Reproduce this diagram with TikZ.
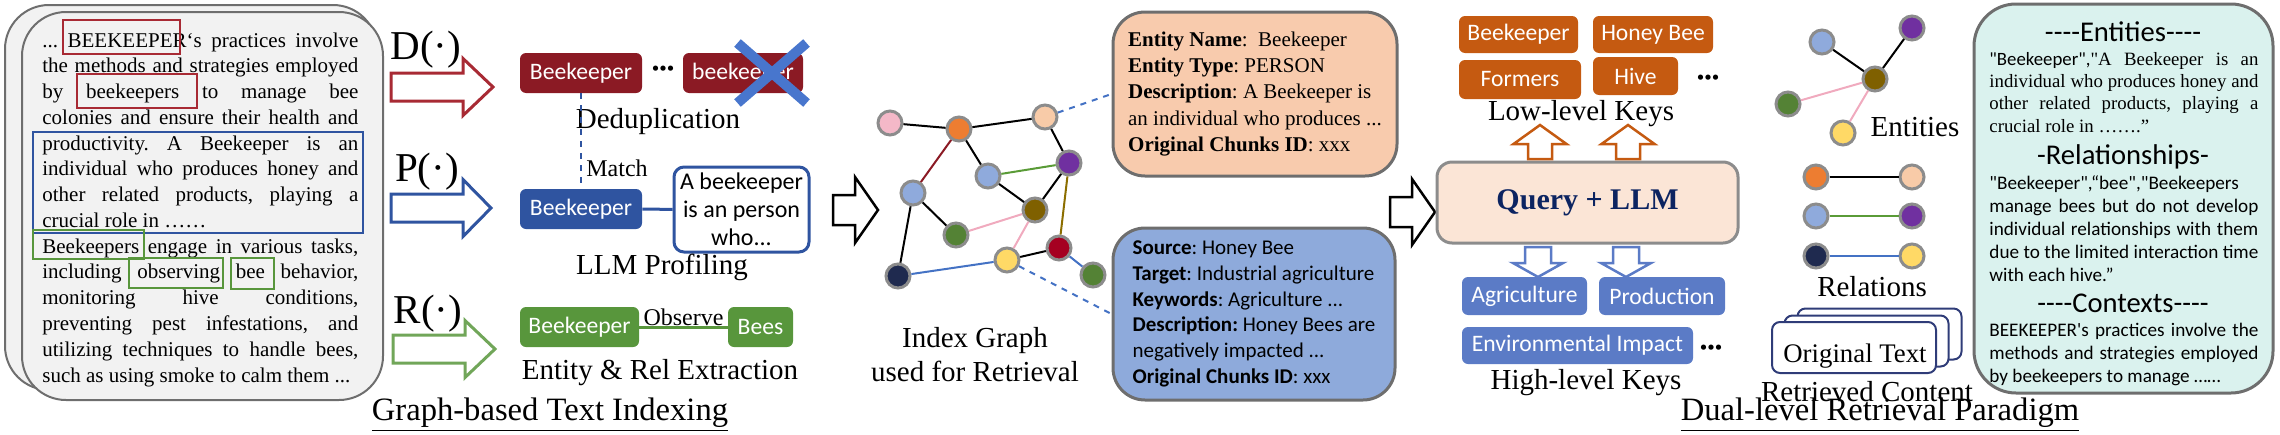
\documentclass[tikz,border=0pt]{standalone}
\usepackage{fontspec}
\setmainfont{Liberation Serif}
\setsansfont{Carlito}
\newfontfamily\calfont[Ligatures=TeXOff]{Carlito}
\newfontfamily\plainserif[Ligatures=TeXOff]{Liberation Serif}
\usepackage{tikz}
\usetikzlibrary{arrows.meta,positioning,shapes.misc}
\usepackage{xcolor}
\definecolor{dedred}{RGB}{139,26,36}
\definecolor{hlred}{RGB}{168,42,52}
\definecolor{profblue}{RGB}{47,84,160}
\definecolor{exgreen}{RGB}{88,150,60}
\definecolor{xblue}{RGB}{72,118,205}
\definecolor{boxgray}{RGB}{110,110,110}
\definecolor{srcfill}{RGB}{242,242,242}
\definecolor{gborder}{RGB}{140,140,140}
\definecolor{gpink}{RGB}{244,184,200}
\definecolor{gorange}{RGB}{237,125,49}
\definecolor{gpeach}{RGB}{248,203,168}
\definecolor{gblue}{RGB}{143,170,220}
\definecolor{gpurple}{RGB}{112,48,160}
\definecolor{gbrown}{RGB}{127,96,0}
\definecolor{ggreen}{RGB}{84,130,53}
\definecolor{gdarkred}{RGB}{165,0,33}
\definecolor{gyellow}{RGB}{255,217,102}
\definecolor{gnavy}{RGB}{31,42,79}
\definecolor{edgegreen}{RGB}{90,155,55}
\definecolor{edgeolive}{RGB}{140,110,0}
\definecolor{edgepink}{RGB}{240,170,190}
\definecolor{edgeblue}{RGB}{68,114,196}
\definecolor{einfofill}{RGB}{248,203,173}
\definecolor{rinfofill}{RGB}{142,170,219}
\definecolor{queryfill}{RGB}{251,229,214}
\definecolor{querynavy}{RGB}{12,36,97}
\definecolor{keyorange}{RGB}{197,90,17}
\definecolor{keyblue}{RGB}{91,123,198}
\definecolor{cardnavy}{RGB}{47,60,120}
\definecolor{mintfill}{RGB}{218,242,238}
\newlength{\srcw}\setlength{\srcw}{158pt}
\newlength{\ctxw}\setlength{\ctxw}{134.5pt}
\newcommand{\jl}[2][\srcw]{\hbox to #1{#2}}
\newcommand{\fs}[2]{\fontsize{#1}{#2}\selectfont}
\frenchspacing
\tikzset{
  srcbox/.style={draw=boxgray,line width=1pt,fill=srcfill,rounded corners=22pt},
  srctext/.style={font=\fs{10.5}{12.88},align=left,inner sep=0pt},
  % hollow block arrow: length, shaft half width, head half width, head length
  pics/hollowarrow/.style n args={4}{code={
    \draw[pic actions] (0,-#2) -- ({#1-#4},-#2) -- ({#1-#4},-#3) -- (#1,0)
      -- ({#1-#4},#3) -- ({#1-#4},#2) -- (0,#2) -- cycle;
  }},
  sidearrow/.style={fill=white,line width=1.5pt,line join=miter},
  bigarrow/.style={draw=black,fill=white,line width=1.25pt,line join=miter},
  keyarrow/.style={fill=white,line width=1.25pt,line join=miter},
  oplabel/.style={font=\fs{20.5}{24},inner sep=0pt},
  tagbox/.style={rounded corners=3pt,text=white,font=\sffamily\fs{11.8}{14},
    inner sep=0pt,minimum height=20pt},
  caption/.style={font=\fs{14.5}{17},inner sep=0pt},
  gnode/.style={circle,draw=gborder,line width=1.5pt,minimum size=12pt,inner sep=0pt},
  gedge/.style={line width=1pt},
  infobox/.style={draw=boxgray,line width=1.5pt,rounded corners=16pt,align=left},
  card/.style={draw=cardnavy,line width=1pt,fill=white,rounded corners=4pt,
    minimum width=82pt,minimum height=25.5pt},
  ctxhead/.style={font=\calfont\fs{14.3}{17},inner sep=0pt},
  dotsnode/.style={inner sep=0pt,font=\sffamily\bfseries\fs{14}{16}}
}

\begin{document}
\begin{tikzpicture}[x=0.5pt,y=-0.5pt]
  \useasboundingbox (0,0) rectangle (2280,434);

  % source text chunk
  \draw[srcbox] (5,5) rectangle (377,390);
  \draw[srcbox] (22,12) rectangle (383,400);
  \node[srctext,anchor=base west] (srctxt) at (42,382) {%
    \jl{... BEEKEEPER‘s practices involve}\\
    \jl{the methods and strategies employed}\\
    \jl{by beekeepers to manage bee}\\
    \jl{colonies and ensure their health and}\\
    \jl{productivity. A Beekeeper is an}\\
    \jl{individual who produces honey and}\\
    \jl{other related products, playing a}\\
    crucial role in ……\\
    \jl{Beekeepers engage in various tasks,}\\
    \jl{including observing bee behavior,}\\
    \jl{monitoring hive conditions,}\\
    \jl{preventing pest infestations, and}\\
    \jl{utilizing techniques to handle bees,}\\
    such as using smoke to calm them ...};
  \draw[hlred,line width=1pt] (63,20) rectangle (180,54);
  \draw[hlred,line width=1pt] (77,74) rectangle (197,108);
  \draw[profblue,line width=1pt] (33,132) rectangle (363,233);
  \draw[exgreen,line width=1pt] (33,230) rectangle (144,259);
  \draw[exgreen,line width=1pt] (129,258) rectangle (223,288);
  \draw[exgreen,line width=1pt] (231,258) rectangle (274,289);

  % D, P, R operators
  \node[oplabel] (opD) at (426,50) {D(·)};
  \node[oplabel] (opP) at (427,172) {P(·)};
  \node[oplabel] (opR) at (428,314) {R(·)};
  \pic[sidearrow,draw=hlred] (arrD) at (391,87) {hollowarrow={102}{14}{28.5}{30}};
  \pic[sidearrow,draw=profblue] (arrP) at (391,208) {hollowarrow={100}{14}{28.5}{28}};
  \pic[sidearrow,draw=exgreen!85!white] (arrR) at (393,349) {hollowarrow={102}{14}{28.5}{30}};

  \node[tagbox,fill=dedred,minimum width=61pt] (dedA) at (581,73) {Beekeeper};
  \node[tagbox,fill=dedred,minimum width=60pt] (dedB) at (743,73) {beekeeper};
  \node[dotsnode] (deddots) at (663,71) {···};
  \node[cross out,draw=xblue,line width=5pt,minimum width=29.5pt,minimum height=25pt,
    inner sep=0pt] (xmark) at (772,73) {};
  \node[caption] (dedcap) at (658,122) {Deduplication};

  \node[tagbox,fill=profblue,minimum width=61pt] (profA) at (581,209) {Beekeeper};
  \node[draw=profblue,line width=1.5pt,rounded corners=5pt,fill=white,align=center,
    minimum width=67.5pt,minimum height=42.5pt,inner sep=0pt,
    font=\sffamily\fs{12}{14}] (profB) at (741.5,209.5) {A beekeeper\\is an person\\who...};
  \draw[profblue,line width=1.5pt] (profA) -- (profB);
  \draw[profblue,line width=1pt,dashed] (dedA) -- (profA);
  \node[inner sep=0pt,font=\fs{12}{14}] (match) at (617,168) {Match};
  \node[caption] (profcap) at (662,267) {LLM Profiling};

  \node[tagbox,fill=exgreen,minimum width=59.5pt] (exA) at (579.5,327) {Beekeeper};
  \node[tagbox,fill=exgreen,minimum width=32.5pt] (exB) at (760.5,327) {Bees};
  \draw[exgreen,line width=1.5pt] (exA) -- node[anchor=base,inner sep=0pt,yshift=1pt,
    text=black,font=\fs{12}{14}] {Observe} (exB);
  \node[caption] (excap) at (660,373) {Entity \& Rel Extraction};
  \node[font=\fs{16.3}{19},inner sep=0pt] (idxtitle) at (550,415)
    {\underline{Graph-based Text Indexing}};

  \pic[bigarrow] (arrIdx) at (833,210) {hollowarrow={45}{15}{33}{23}};

  % index graph
  \node[gnode,fill=gpink] (gpink) at (890,123) {};
  \node[gnode,fill=gorange] (gorange) at (959,129) {};
  \node[gnode,fill=gpeach] (gpeach) at (1045,117) {};
  \node[gnode,fill=gblue] (gbluea) at (988,176) {};
  \node[gnode,fill=gpurple] (gpurple) at (1069,163) {};
  \node[gnode,fill=gblue] (gblueb) at (913,193) {};
  \node[gnode,fill=gbrown] (gbrown) at (1035,210) {};
  \node[gnode,fill=ggreen] (ggreena) at (956,235) {};
  \node[gnode,fill=gdarkred] (gdarkred) at (1059,248) {};
  \node[gnode,fill=gyellow] (gyellow) at (1007,260) {};
  \node[gnode,fill=ggreen] (ggreenb) at (1093,275) {};
  \node[gnode,fill=gnavy] (gnavy) at (898,276) {};
  \draw[gedge] (gpink) -- (gorange);
  \draw[gedge] (gorange) -- (gpeach);
  \draw[gedge,draw=dedred] (gorange) -- (gblueb);
  \draw[gedge] (gorange) -- (gbluea);
  \draw[gedge] (gpeach) -- (gpurple);
  \draw[gedge,draw=edgegreen] (gbluea) -- (gpurple);
  \draw[gedge] (gbluea) -- (gbrown);
  \draw[gedge] (gpurple) -- (gbrown);
  \draw[gedge,draw=edgeolive] (gpurple) -- (gdarkred);
  \draw[gedge] (gblueb) -- (ggreena);
  \draw[gedge] (gblueb) -- (gnavy);
  \draw[gedge,draw=edgepink] (ggreena) -- (gbrown);
  \draw[gedge,draw=edgepink] (gbrown) -- (gyellow);
  \draw[gedge] (gyellow) -- (gdarkred);
  \draw[gedge,draw=edgeblue] (gdarkred) -- (ggreenb);
  \draw[gedge,draw=edgeblue] (gnavy) -- (gyellow);
  \node[caption,align=center] (graphcap) at (975,355) {Index Graph\\used for Retrieval};

  \node[infobox,fill=einfofill,minimum width=142pt,minimum height=82pt,
    font=\fs{10.5}{13.1}] (einfo) at (1255,94) {%
    \textbf{Entity Name}:~~Beekeeper\\
    \textbf{Entity Type}: PERSON\\
    \textbf{Description}: A Beekeeper is\\
    an individual who produces ...\\
    \textbf{Original Chunks ID}: xxx};
  \node[infobox,fill=rinfofill,minimum width=141pt,minimum height=86pt,
    font=\sffamily\fs{10.5}{12.85}] (rinfo) at (1254,314) {%
    \textbf{Source}: Honey Bee\\
    \textbf{Target}: Industrial agriculture\\
    \textbf{Keywords}: Agriculture ...\\
    \textbf{Description:} Honey Bees are\\
    negatively impacted ...\\
    \textbf{Original Chunks ID}: xxx};
  \draw[edgeblue,line width=1pt,dashed] (gpeach) -- (einfo.west);
  \draw[edgeblue,line width=1pt,dashed] (gyellow) -- (rinfo.west);

  \pic[bigarrow] (arrQry) at (1390,212) {hollowarrow={45}{15}{33}{23}};

  % dual-level keys
  \node[draw=gborder,line width=1.5pt,fill=queryfill,rounded corners=7.5pt,
    minimum width=150.5pt,minimum height=40.5pt,text=querynavy,
    font=\bfseries\fs{15}{18}] (query) at (1587.5,202.5) {Query + LLM};
  \node[tagbox,fill=keyorange,minimum width=59.5pt,minimum height=18.5pt] (kbee) at (1518.5,34.5) {Beekeeper};
  \node[tagbox,fill=keyorange,minimum width=60pt,minimum height=18.5pt] (khoney) at (1653,34.5) {Honey Bee};
  \node[tagbox,fill=keyorange,minimum width=61pt,minimum height=19.5pt] (kformers) at (1520,79.5) {Formers};
  \node[tagbox,fill=keyorange,minimum width=42.5pt,minimum height=19pt] (khive) at (1635.5,76) {Hive};
  \node[dotsnode] (lowdots) at (1708,80) {···};
  \node[caption] (lowcap) at (1581,114) {Low-level Keys};
  \pic[keyarrow,draw=keyorange,rotate=90] (upA) at (1540,159) {hollowarrow={34}{12}{26.5}{19}};
  \pic[keyarrow,draw=keyorange,rotate=90] (upB) at (1628,159) {hollowarrow={34}{12}{26.5}{19}};
  \pic[keyarrow,draw=keyblue,rotate=-90] (downA) at (1538,247) {hollowarrow={30}{13}{25}{14}};
  \pic[keyarrow,draw=keyblue,rotate=-90] (downB) at (1626,247) {hollowarrow={30}{13}{25}{14}};
  \node[tagbox,fill=keyblue,minimum width=62.5pt,minimum height=19pt] (kagri) at (1524.5,296) {Agriculture};
  \node[tagbox,fill=keyblue,minimum width=63pt,minimum height=19pt] (kprod) at (1662,296) {Production};
  \node[tagbox,fill=keyblue,minimum width=115.5pt,minimum height=18.5pt] (kenv) at (1577.5,345.5) {Environmental Impact};
  \node[dotsnode] (highdots) at (1711,350) {···};
  \node[caption] (highcap) at (1586,383) {High-level Keys};

  % retrieved content
  \node[gnode,fill=gblue] (eblue) at (1822,42) {};
  \node[gnode,fill=gpurple] (epurple) at (1912,28) {};
  \node[gnode,fill=gbrown] (ebrown) at (1875,79) {};
  \node[gnode,fill=ggreen] (egreen) at (1788,104) {};
  \node[gnode,fill=gyellow] (eyellow) at (1843,133) {};
  \draw[gedge] (eblue) -- (ebrown);
  \draw[gedge] (epurple) -- (ebrown);
  \draw[gedge,draw=edgepink] (egreen) -- (ebrown);
  \draw[gedge,draw=edgepink] (eyellow) -- (ebrown);
  \node[caption] (entcap) at (1915,127) {Entities};

  \node[gnode,fill=gorange] (rorange) at (1816,177) {};
  \node[gnode,fill=gpeach] (rpeach) at (1912,177) {};
  \node[gnode,fill=gblue] (rblue) at (1816,216) {};
  \node[gnode,fill=gpurple] (rpurple) at (1912,216) {};
  \node[gnode,fill=gnavy] (rnavy) at (1816,256) {};
  \node[gnode,fill=gyellow] (ryellow) at (1912,256) {};
  \draw[gedge] (rorange) -- (rpeach);
  \draw[gedge,draw=edgegreen] (rblue) -- (rpurple);
  \draw[gedge,draw=edgeblue] (rnavy) -- (ryellow);
  \node[caption] (relcap) at (1872,287) {Relations};

  \node[card] (cardC) at (1879.5,334) {};
  \node[card] (cardB) at (1866.5,341) {};
  \node[card] (cardA) at (1854,347.5) {};
  \node[inner sep=0pt,font=\fs{13.4}{16}] (origtxt) at (1855,356) {Original Text};
  \node[caption] (retcap) at (1867,392) {Retrieved Content};
  \node[font=\fs{16.3}{19},inner sep=0pt] (dualtitle) at (1880,415)
    {\underline{Dual-level Retrieval Paradigm}};

  % retrieved context
  \node[draw=boxgray,line width=1.5pt,fill=mintfill,rounded corners=21pt,
    minimum width=149.5pt,minimum height=194.5pt] (ctxbox) at (2123.5,198.5) {};
  \node[ctxhead] (hent) at (2123,32) {----Entities----};
  \node[inner sep=0pt,align=left,font=\plainserif\fs{9.4}{11.1},anchor=base west] (enttxt) at (1989,132) {%
    \jl[\ctxw]{{\calfont"Beekeeper",}"A Beekeeper is an}\\
    \jl[\ctxw]{individual who produces honey and}\\
    \jl[\ctxw]{other related products, playing a}\\
    crucial role in …….”};
  \node[ctxhead] (hrel) at (2123,157) {-Relationships-};
  \node[inner sep=0pt,align=left,font=\calfont\fs{9.6}{11.4},anchor=base west] (reltxt) at (1989,281) {%
    "Beekeeper",“bee","Beekeepers\\
    \jl[\ctxw]{manage bees but do not develop}\\
    \jl[\ctxw]{individual relationships with them}\\
    \jl[\ctxw]{due to the limited interaction time}\\
    with each hive.”};
  \node[ctxhead] (hctx) at (2123,303) {----Contexts----};
  \node[inner sep=0pt,align=left,font=\calfont\fs{9.6}{11.4},anchor=base west] (ctxtxt) at (1989,382) {%
    \jl[\ctxw]{BEEKEEPER's practices involve the}\\
    \jl[\ctxw]{methods and strategies employed}\\
    by beekeepers to manage ……};
\end{tikzpicture}
\end{document}
